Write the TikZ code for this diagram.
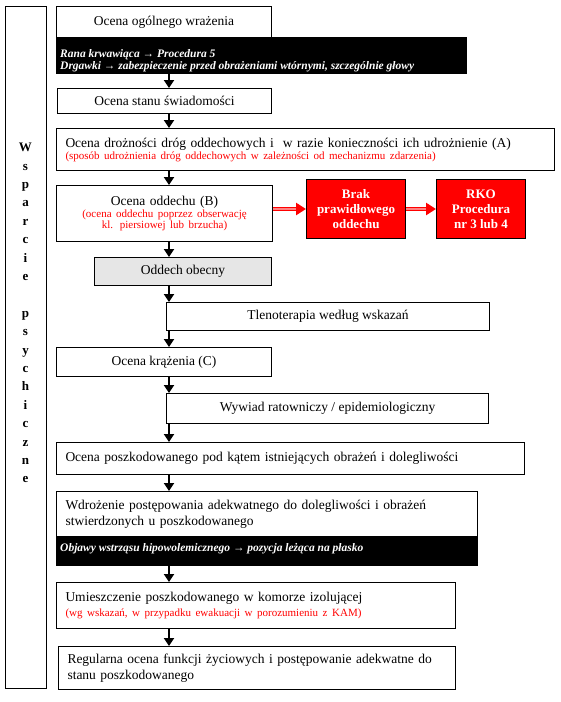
\documentclass[tikz,border=0pt]{standalone}
\usepackage{fontspec}
\setmainfont{Liberation Serif}
\usetikzlibrary{arrows.meta}
\definecolor{redtxt}{RGB}{255,0,0}
\definecolor{lightred}{RGB}{255,130,130}
\definecolor{grayfill}{RGB}{230,230,230}
\begin{document}
\begin{tikzpicture}[x=1pt,y=-1pt,
  box/.style={draw, line width=1pt, anchor=north west, inner sep=0pt,
    font=\fontsize{13.5}{16}\selectfont},
  lbox/.style={box, inner xsep=9pt, align=left},
  blackbox/.style={box, fill=black},
  redbox/.style={box, fill=red, text=white, align=center,
    font=\bfseries\fontsize{13}{15}\selectfont},
  whitebi/.style={text=white, anchor=west, align=left, inner sep=0pt,
    font=\bfseries\itshape\fontsize{11.5}{12}\selectfont},
  blk/.style={-{Triangle[width=10pt,length=8pt]}, line width=2.5pt},
  redarr/.style={-{Triangle[width=12pt,length=10pt]}, line width=4.5pt, draw=red},
  redin/.style={line width=1.5pt, draw=lightred}
]
\useasboundingbox (0,0) rectangle (561,702);
\newcommand{\subfont}{\fontsize{11}{12}\selectfont}

% left side box with vertical text
\node[box, minimum width=41pt, minimum height=682pt] (side) at (5,6) {};
\node[inner sep=0pt, align=center, font=\bfseries\fontsize{13}{18.4}\selectfont] (sidetxt) at (25.5,313)
  {W\\s\\p\\a\\r\\c\\i\\e\\[18.4pt]p\\s\\y\\c\\h\\i\\c\\z\\n\\e};

\coordinate (ax) at (169,0);

% 1
\node[box, minimum width=215pt, minimum height=31pt] (b1) at (56,6) {Ocena ogólnego wrażenia};
\node[blackbox, minimum width=410pt, minimum height=36pt] (k1) at (56,37) {};
\node[whitebi] (k1t) at (60,60.5)
  {Rana krwawiąca → Procedura 5\\Drgawki → zabezpieczenie przed obrażeniami wtórnymi, szczególnie głowy};

% 2
\node[box, minimum width=214pt, minimum height=25pt] (b2) at (57,88) {Ocena stanu świadomości};

% A
\node[lbox, minimum width=498pt, minimum height=42pt, text width=480pt,
  font=\fontsize{13.5}{12}\selectfont] (bA) at (56,128)
  {Ocena drożności dróg oddechowych i\ \ w razie konieczności ich udrożnienie (A)\\
   {\subfont\color{redtxt}(sposób udrożnienia dróg oddechowych w zależności od mechanizmu zdarzenia)}};

% B
\node[box, minimum width=216pt, minimum height=56pt, text width=210pt, align=center,
  font=\fontsize{13.5}{11.5}\selectfont] (bB) at (56,185)
  {Ocena oddechu (B)\\
   {\subfont\color{redtxt}(ocena oddechu poprzez obserwację}\\
   {\subfont\color{redtxt}kl. piersiowej lub brzucha)}};

% red boxes
\node[redbox, minimum width=99pt, minimum height=59pt] (r1) at (306,179) {Brak\\prawidłowego\\oddechu};
\node[redbox, minimum width=89pt, minimum height=59pt] (r2) at (436,179) {RKO\\Procedura\\nr 3 lub 4};

% gray
\node[box, fill=grayfill, minimum width=177pt, minimum height=28pt] (g) at (94,257) {Oddech obecny};

% Tlenoterapia
\node[box, minimum width=323pt, minimum height=28pt] (t) at (166,302) {Tlenoterapia według wskazań};

% C
\node[box, minimum width=215pt, minimum height=29pt] (c) at (56,347) {Ocena krążenia (C)};

% Wywiad
\node[box, minimum width=322pt, minimum height=30pt] (wy) at (166,393) {Wywiad ratowniczy / epidemiologiczny};

% Ocena poszkodowanego
\node[lbox, minimum width=468pt, minimum height=32pt, text width=450pt] (op) at (56,442)
  {Ocena poszkodowanego pod kątem istniejących obrażeń i dolegliwości};

% Wdrozenie
\node[lbox, minimum width=421pt, minimum height=45pt, text width=403pt] (wd) at (56,491)
  {Wdrożenie postępowania adekwatnego do dolegliwości i obrażeń\\stwierdzonych u poszkodowanego};
\node[blackbox, minimum width=421pt, minimum height=29pt] (k2) at (56,536) {};
\node[whitebi] (k2t) at (60,549) {Objawy wstrząsu hipowolemicznego → pozycja leżąca na płasko};

% Umieszczenie
\node[lbox, minimum width=399pt, minimum height=46pt, text width=381pt,
  font=\fontsize{13.5}{15}\selectfont] (um) at (56,582)
  {Umieszczenie poszkodowanego w komorze izolującej\\
   {\subfont\color{redtxt}(wg wskazań, w przypadku ewakuacji w porozumieniu z KAM)}};

% Regularna
\node[lbox, minimum width=397pt, minimum height=43pt, text width=379pt] (re) at (58,646)
  {Regularna ocena funkcji życiowych i postępowanie adekwatne do\\stanu poszkodowanego};

% black arrows
\draw[blk] (k1.south -| ax) -- (b2.north -| ax);
\draw[blk] (b2.south -| ax) -- (bA.north -| ax);
\draw[blk] (bA.south -| ax) -- (bB.north -| ax);
\draw[blk] (bB.south -| ax) -- (g.north -| ax);
\draw[blk] (g.south -| ax) -- (t.north -| ax);
\draw[blk] (t.south -| ax) -- (c.north -| ax);
\draw[blk] (c.south -| ax) -- (wy.north -| ax);
\draw[blk] (wy.south -| ax) -- (op.north -| ax);
\draw[blk] (op.south -| ax) -- (wd.north -| ax);
\draw[blk] (k2.south -| ax) -- (um.north -| ax);
\draw[blk] (um.south -| ax) -- (re.north -| ax);

% red arrows
\draw[redarr] (bB.east |- r1.west) -- (r1.west);
\draw[redin] (bB.east |- r1.west) -- ([xshift=-10pt]r1.west);
\draw[redarr] (r1.east) -- (r2.west);
\draw[redin] (r1.east) -- ([xshift=-10pt]r2.west);
\end{tikzpicture}
\end{document}
